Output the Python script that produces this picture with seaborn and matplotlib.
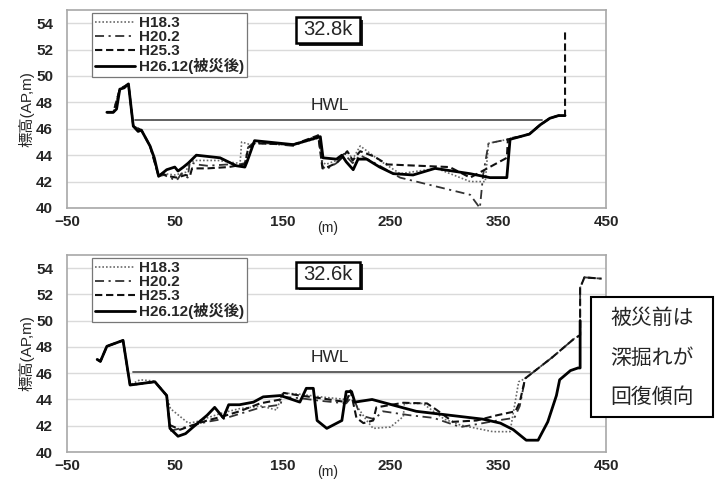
"""
River cross-section comparison plots (32.8k and 32.6k).
"""

import matplotlib.pyplot as plt
from matplotlib.patches import Rectangle
import pandas as pd
import seaborn as sns

# ---- data: 32.8k ----
top_h26_x = [-13, -7, -4, -1, 3, 7, 11.5, 16, 19, 23, 27, 31, 35, 42.5, 50, 53, 58, 62.5, 70, 92, 107, 115, 117, 124,
             160, 185, 187.5, 200, 205, 209, 215.5, 220, 228, 240, 252.7, 271, 291.4, 323.8, 342.4, 358, 361, 370, 379,
             389, 398, 406, 412]
top_h26_y = [47.25, 47.25, 47.5, 49.0, 49.1, 49.4, 46.2, 45.8, 45.9, 45.3, 44.7, 43.8, 42.4, 42.9, 43.1, 42.8, 43.1,
             43.4, 44.0, 43.8, 43.2, 43.1, 43.5, 45.1, 44.8, 45.4, 43.8, 43.7, 44.0, 43.5, 42.9, 43.7, 43.7, 43.1, 42.6,
             42.5, 43.0, 42.6, 42.3, 42.3, 45.2, 45.4, 45.6, 46.3, 46.8, 47.0, 47.0]

top_h25_x = [-13, -7, -1, 7, 11.5, 19, 27, 35, 38, 45, 52, 60, 64, 66, 80, 100, 107, 115, 118, 124, 160, 183, 187, 189,
             200, 205, 210, 215, 222, 235, 247, 305, 324, 358, 359, 370, 379, 389, 398, 406, 412, 412]
top_h25_y = [47.25, 47.25, 49.0, 49.4, 46.2, 45.9, 44.7, 42.4, 42.6, 42.4, 42.3, 42.5, 42.4, 43.0, 43.0, 43.1, 43.2,
             43.3, 44.5, 44.9, 44.8, 45.5, 43.0, 43.0, 43.4, 43.8, 44.3, 43.6, 44.3, 43.9, 43.3, 43.1, 42.3, 43.8, 45.2,
             45.4, 45.6, 46.3, 46.8, 47.0, 47.0, 53.3]

top_h20_x = [-13, -7, -1, 7, 11.5, 19, 27, 35, 40, 48, 52, 56, 62, 64, 70, 80, 100, 110, 115, 118, 124, 160, 183, 187,
             190, 200, 207, 215, 222, 240, 259, 324, 333, 336, 341, 359, 361, 370, 379, 389, 398, 406, 412]
top_h20_y = [47.25, 47.25, 49.0, 49.4, 46.2, 45.9, 44.7, 42.4, 42.5, 42.2, 42.1, 42.6, 42.3, 43.5, 43.3, 43.2, 43.3,
             43.3, 43.4, 44.6, 45.0, 44.7, 45.5, 43.2, 42.9, 43.4, 44.1, 43.4, 44.0, 43.2, 42.3, 41.0, 40.0, 42.5, 44.9,
             45.2, 45.3, 45.4, 45.6, 46.3, 46.8, 47.0, 47.0]

top_h18_x = [-13, -7, -1, 7, 11.5, 19, 27, 35, 40, 50, 60, 64, 70, 90, 108, 110.5, 112, 120, 125, 160, 184, 187, 190,
             200, 210, 215, 222, 240, 259, 293, 324, 338, 341, 359, 370, 379, 389, 398, 406, 412]
top_h18_y = [47.25, 47.25, 49.0, 49.4, 46.2, 45.9, 44.7, 42.4, 42.6, 42.5, 42.7, 43.5, 43.6, 43.6, 43.4, 43.3, 45.0,
             44.8, 44.9, 44.8, 45.3, 43.5, 43.3, 43.6, 44.3, 43.7, 44.7, 43.6, 42.6, 43.0, 42.0, 42.0, 44.9, 45.2, 45.4,
             45.6, 46.3, 46.8, 47.0, 47.0]

# ---- data: 32.6k ----
bot_h26_x = [-22, -19, -13, 2, 8.5, 31.5, 42.5, 45.5, 53, 60, 67, 80, 87, 95, 100, 110, 123, 132, 148, 166, 172, 178.5,
             182, 191, 205, 209, 214, 217, 233, 274, 336, 352, 364, 376, 387, 396, 404, 407, 417, 424, 426, 426]
bot_h26_y = [47.05, 46.9, 48.05, 48.5, 45.1, 45.35, 44.3, 41.8, 41.2, 41.4, 41.9, 42.8, 43.4, 42.6, 43.6, 43.6, 43.8,
             44.2, 44.3, 43.8, 44.85, 44.85, 42.4, 41.8, 42.4, 44.6, 44.6, 43.8, 44.0, 43.1, 42.5, 42.2, 41.7, 40.9,
             40.9, 42.3, 44.3, 45.5, 46.2, 46.4, 46.4, 50.0]

bot_h25_x = [-22, -19, -13, 2, 8.5, 31.5, 42.5, 45.5, 55, 65, 80, 94, 110, 129, 148, 151, 166, 185, 209, 213, 218.5,
             225, 234, 237, 262, 284, 293, 308, 330, 349, 366, 370, 375, 400, 420, 426, 426, 430, 446]
bot_h25_y = [47.05, 46.9, 48.05, 48.5, 45.1, 45.35, 44.3, 42.05, 41.7, 42.0, 42.4, 42.7, 43.1, 43.7, 44.0, 44.5, 44.3,
             44.1, 43.8, 44.7, 42.6, 42.2, 42.4, 43.4, 43.75, 43.7, 43.2, 42.3, 42.4, 42.8, 43.1, 43.8, 45.6, 47.2,
             48.6, 48.9, 52.5, 53.3, 53.2]

bot_h20_x = [-22, -19, -13, 2, 8.5, 31.5, 42.5, 45.5, 55, 65, 80, 94, 110, 130, 148, 150, 166, 185, 209, 215, 222, 235,
             243, 268, 290, 315, 336, 349, 365, 370, 375, 400, 420, 426, 426, 430, 446]
bot_h20_y = [47.05, 46.9, 48.05, 48.5, 45.1, 45.35, 44.3, 41.6, 41.8, 42.0, 42.3, 42.5, 42.9, 43.4, 43.6, 44.2, 44.1,
             43.9, 43.7, 44.3, 42.8, 42.5, 43.1, 42.8, 42.6, 41.9, 42.2, 42.4, 42.6, 43.5, 45.6, 47.2, 48.6, 48.9, 52.5,
             53.3, 53.2]

bot_h18_x = [-22, -19, -13, 2, 8.5, 17.7, 31.5, 42.5, 46, 52, 62.5, 70, 80, 95, 110, 130, 144.5, 150, 166, 185, 209,
             214, 218, 228, 234, 250, 262, 263, 280, 300, 315, 345, 361, 369, 375, 400, 420, 426, 426, 430, 446]
bot_h18_y = [47.05, 46.9, 48.05, 48.5, 45.1, 45.5, 45.4, 44.3, 43.3, 42.9, 42.2, 42.3, 42.6, 43.0, 43.3, 43.5, 43.2,
             44.5, 44.4, 44.2, 44.0, 44.5, 43.6, 42.4, 41.8, 41.9, 42.7, 43.7, 43.7, 42.5, 42.05, 41.55, 41.55, 45.35,
             45.6, 47.2, 48.6, 48.9, 52.5, 53.3, 53.2]

hwl_top_x = [13, 391]
hwl_top_y = [46.7, 46.7]
hwl_bot_x = [11.5, 379.5]
hwl_bot_y = [46.1, 46.1]

SERIES = ['H18.3', 'H20.2', 'H25.3', 'H26.12(被災後)']
SECTIONS = ['32.8k', '32.6k']

STYLE = {
    'H18.3': dict(color='#6a6a6a', lw=1.2, linestyle=(0, (1, 1.2))),
    'H20.2': dict(color='#333333', lw=1.3, linestyle=(0, (5, 2.5, 1.2, 2.5))),
    'H25.3': dict(color='#111111', lw=1.5, linestyle=(0, (3.5, 1.8))),
    'H26.12(被災後)': dict(color='black', lw=2.0, linestyle='-'),
}


def make_frame(xs, ys):
    rows = []
    for name, x, y in zip(SERIES, xs, ys):
        rows.append(pd.DataFrame({'series': name, 'x': x, 'y': y}))
    return pd.concat(rows, ignore_index=True)


panels = {
    '32.8k': (make_frame([top_h18_x, top_h20_x, top_h25_x, top_h26_x],
                         [top_h18_y, top_h20_y, top_h25_y, top_h26_y]),
              hwl_top_x, hwl_top_y),
    '32.6k': (make_frame([bot_h18_x, bot_h20_x, bot_h25_x, bot_h26_x],
                         [bot_h18_y, bot_h20_y, bot_h25_y, bot_h26_y]),
              hwl_bot_x, hwl_bot_y),
}

sns.set_style('white')
plt.rcParams['font.family'] = ['Liberation Sans', 'Noto Sans CJK JP', 'DejaVu Sans']

fig = plt.figure(figsize=(7.21, 4.80), dpi=100)
ax_top = fig.add_axes([0.0929, 0.5667, 0.7476, 0.4125])
ax_bot = fig.add_axes([0.0929, 0.0583, 0.7476, 0.4104])


def plot_panel(ax, section):
    df, hx, hy = panels[section]

    sns.lineplot(x=hx, y=hy, ax=ax, color='#555555', lw=1.3, estimator=None, sort=False)
    for name in SERIES:
        sub = df[df['series'] == name]
        sns.lineplot(data=sub, x='x', y='y', ax=ax, estimator=None, sort=False,
                     label=name, **STYLE[name])

    ax.set_xlim(-50, 450)
    ax.set_ylim(40, 55)
    ax.set_xticks([-50, 50, 150, 250, 350, 450])
    ax.set_yticks(range(40, 55, 2))
    ax.yaxis.grid(True, color='#dadada', lw=1)
    ax.set_axisbelow(True)
    for sp in ax.spines.values():
        sp.set_color('#a8a8a8')
        sp.set_linewidth(1.2)
    ax.tick_params(axis='x', direction='in', length=3, color='#888888', pad=5, labelsize=11)
    ax.tick_params(axis='y', length=0, pad=10, labelsize=11)
    for lab in ax.get_xticklabels() + ax.get_yticklabels():
        lab.set_fontweight('bold')
    ax.set_xlabel('')
    ax.set_ylabel('標高(AP,m)', fontsize=11, labelpad=1)
    ax.text(0.483, -0.1, '(m)', transform=ax.transAxes, ha='center', va='center', fontsize=10)

    ax.text(194, hy[0] + 0.5, 'HWL', ha='center', va='bottom', fontsize=12.5)

    handles, labels = ax.get_legend_handles_labels()
    leg = ax.legend(handles, labels, loc='upper left', bbox_to_anchor=(0.046, 0.985), fontsize=11,
                    handlelength=2.6, labelspacing=0.0, borderpad=0.2, handletextpad=0.3,
                    fancybox=False, framealpha=1, edgecolor='#777777', borderaxespad=0)
    leg.get_frame().set_linewidth(0.9)
    for txt in leg.get_texts():
        txt.set_fontweight('bold')

    # section label with shadow
    y0 = 0.833 if section == '32.8k' else 0.835
    ax.add_patch(Rectangle((0.431, y0 - 0.015), 0.119, 0.132, transform=ax.transAxes,
                           facecolor='#222222', edgecolor='none', zorder=5))
    ax.add_patch(Rectangle((0.425, y0), 0.119, 0.132, transform=ax.transAxes,
                           facecolor='white', edgecolor='black', lw=1.8, zorder=6))
    ax.text(0.4845, y0 + 0.066, section, transform=ax.transAxes, ha='center', va='center',
            fontsize=14.5, zorder=7)


plot_panel(ax_top, '32.8k')
plot_panel(ax_bot, '32.6k')

# note box
fig.patches.append(Rectangle((591 / 721, 1 - 417 / 480), 122 / 721, 120 / 480, transform=fig.transFigure,
                             facecolor='white', edgecolor='black', lw=1.5, zorder=5))
for txt, yy in zip(['被災前は', '深掘れが', '回復傾向'], [0.3375, 0.254, 0.172]):
    fig.text(0.904, yy, txt, ha='center', va='center', fontsize=15, zorder=6)

plt.savefig('out.png', dpi=100)
